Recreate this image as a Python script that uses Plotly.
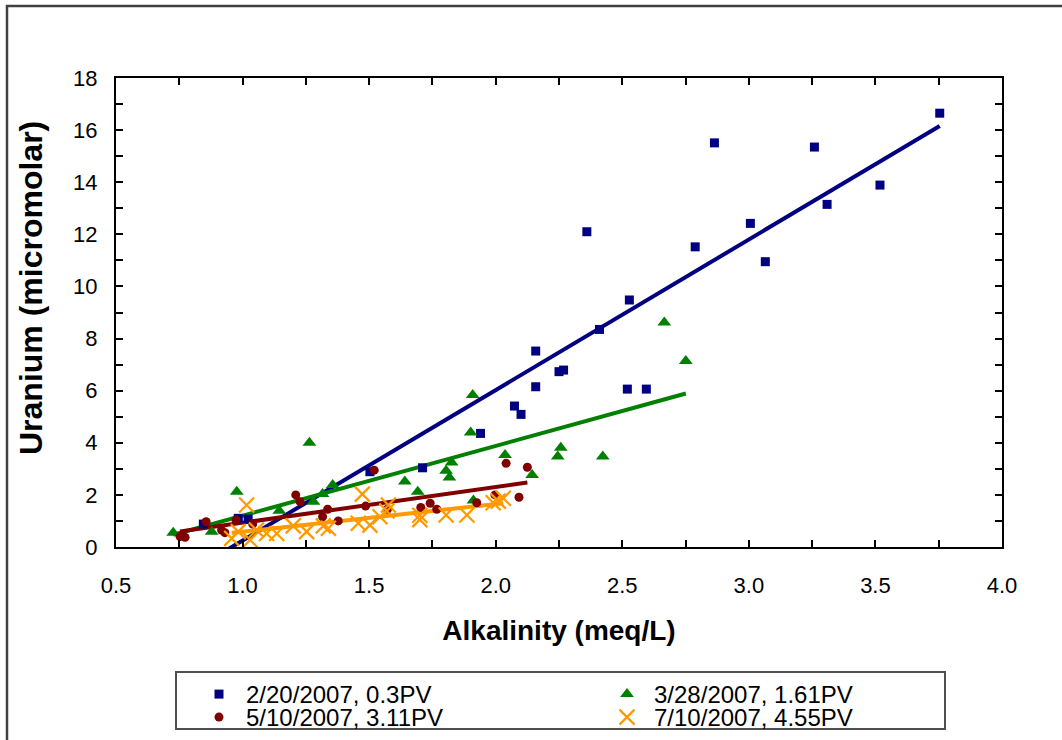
import numpy as np
import plotly.graph_objects as go

# ---------------- data ----------------
blue_x = [0.845, 0.983, 1.022, 1.503, 1.711, 1.94, 2.074, 2.10, 2.158, 2.158, 2.25, 2.268,
          2.36, 2.41, 2.52, 2.528, 2.595, 2.788, 2.864, 3.006, 3.065, 3.259, 3.309, 3.518, 3.754]
blue_y = [0.88, 1.1, 1.07, 2.89, 3.04, 4.36, 5.41, 5.09, 6.15, 7.52, 6.73, 6.79,
          12.1, 8.35, 6.06, 9.48, 6.06, 11.52, 15.51, 12.42, 10.95, 15.35, 13.15, 13.89, 16.65]

green_x = [0.726, 0.878, 0.977, 1.145, 1.264, 1.28, 1.316, 1.356, 1.641, 1.692, 1.804, 1.817,
           1.826, 1.901, 1.909, 1.912, 2.037, 2.144, 2.245, 2.257, 2.423, 2.666, 2.751]
green_y = [0.55, 0.59, 2.12, 1.39, 4.0, 1.74, 2.03, 2.38, 2.51, 2.12, 2.93, 2.67,
           3.24, 4.39, 5.83, 1.78, 3.53, 2.76, 3.47, 3.81, 3.47, 8.62, 7.14]

red_x = [0.753, 0.773, 0.856, 0.917, 0.93, 0.974, 1.04, 1.21, 1.227, 1.316, 1.336, 1.378,
         1.486, 1.52, 1.572, 1.704, 1.741, 1.767, 1.925, 1.997, 2.041, 2.092, 2.125]
red_y = [0.40, 0.37, 0.97, 0.65, 0.55, 1.04, 0.88, 2.0, 1.74, 1.16, 1.45, 1.0,
         1.57, 2.95, 1.45, 1.52, 1.68, 1.45, 1.70, 2.0, 3.21, 1.91, 3.06]

orange_x = [0.957, 0.983, 1.016, 1.03, 1.055, 1.095, 1.135, 1.20, 1.253, 1.319, 1.339, 1.457,
            1.473, 1.503, 1.543, 1.57, 1.576, 1.70, 1.70, 1.804, 1.886, 1.99, 2.01, 2.03]
orange_y = [0.33, 0.59, 1.61, 0.27, 0.65, 0.52, 0.52, 0.81, 0.59, 0.81, 0.72, 0.91,
            2.03, 0.84, 1.16, 1.38, 1.61, 1.22, 1.05, 1.23, 1.23, 1.70, 1.76, 1.87]

series_names = ["2/20/2007, 0.3PV", "3/28/2007, 1.61PV", "5/10/2007, 3.11PV", "7/10/2007, 4.55PV"]

x_title = "Alkalinity (meq/L)"
y_title = "Uranium (micromolar)"

x_tickvals = [0.5, 0.75, 1.0, 1.25, 1.5, 1.75, 2.0, 2.25, 2.5, 2.75, 3.0, 3.25, 3.5, 3.75, 4.0]
x_ticktext = ["0.5", "", "1.0", "", "1.5", "", "2.0", "", "2.5", "", "3.0", "", "3.5", "", "4.0"]
y_tickvals = list(range(0, 19))
y_ticktext = [str(v) if v % 2 == 0 else "" for v in y_tickvals]

# ---------------- style ----------------
colors = ["#000080", "#008000", "#800000", "#FF9900"]
symbols = ["square", "triangle-up", "circle", "x-thin"]
sizes = [9, 12, 9, 15]
legend_ids = ["legend", "legend", "legend2", "legend2"]

FONT = "Liberation Sans, Arial, sans-serif"

fig = go.Figure()

datasets = [(blue_x, blue_y), (green_x, green_y), (red_x, red_y), (orange_x, orange_y)]

# trendlines (least squares, spanning each series' x range)
for (xs, ys), c in zip(datasets, colors):
    xa = np.array(xs)
    ya = np.array(ys)
    slope, intercept = np.polyfit(xa, ya, 1)
    xl = np.array([xa.min(), xa.max()])
    fig.add_trace(go.Scatter(x=xl, y=slope * xl + intercept, mode="lines",
                             line=dict(color=c, width=4), showlegend=False,
                             hoverinfo="skip"))

for (xs, ys), c, s, sz, nm, lg in zip(datasets, colors, symbols, sizes, series_names, legend_ids):
    if s == "x-thin":
        marker = dict(symbol=s, size=sz, color=c, line=dict(color=c, width=2.2))
    else:
        marker = dict(symbol=s, size=sz, color=c, line=dict(width=0))
    fig.add_trace(go.Scatter(x=xs, y=ys, mode="markers", name=nm, marker=marker, legend=lg))

axis_common = dict(showgrid=False, zeroline=False, showline=True, linecolor="#000000",
                   linewidth=2, mirror="allticks", ticks="inside", ticklen=7,
                   tickwidth=1.5, tickcolor="#000000",
                   tickfont=dict(family=FONT, size=22, color="#000000"))

fig.update_xaxes(range=[0.5, 4.0], tickmode="array", tickvals=x_tickvals, ticktext=x_ticktext,
                 ticklabelstandoff=18,
                 title=dict(text="<b>" + x_title + "</b>",
                            font=dict(family=FONT, size=28, color="#000000"), standoff=23),
                 **axis_common)
fig.update_yaxes(range=[0, 18], tickmode="array", tickvals=y_tickvals, ticktext=y_ticktext,
                 ticklabelstandoff=12, **axis_common)

L, R, T, B = 116, 60, 78, 193
W, H = 1062, 740
pw, ph = W - L - R, H - T - B


def px(xpix):
    return (xpix - L) / pw


def py(ypix):
    return (H - B - ypix) / ph


# y-axis title placed as in the reference (slightly above the plot centre)
fig.add_annotation(text="<b>" + y_title + "</b>", xref="paper", yref="paper",
                   x=px(31), y=py(288), xanchor="center", yanchor="middle",
                   textangle=-90, showarrow=False,
                   font=dict(family=FONT, size=32, color="#000000"))

# outer chart-area border and legend box
fig.add_shape(type="rect", xref="paper", yref="paper",
              x0=px(7), x1=px(1075), y0=py(760), y1=py(6),
              line=dict(color="#404040", width=2.5), fillcolor="rgba(0,0,0,0)", layer="below")
fig.add_shape(type="rect", xref="paper", yref="paper",
              x0=px(176), x1=px(945), y0=py(729), y1=py(672),
              line=dict(color="#505050", width=2), fillcolor="rgba(0,0,0,0)")

legend_common = dict(orientation="h", xanchor="left", yanchor="top",
                     entrywidth=349, entrywidthmode="pixels", itemwidth=44,
                     font=dict(family=FONT, size=24, color="#000000"),
                     bgcolor="rgba(0,0,0,0)", borderwidth=0, itemsizing="trace")

fig.update_layout(
    width=W, height=H,
    margin=dict(l=L, r=R, t=T, b=B, autoexpand=False),
    plot_bgcolor="#FFFFFF", paper_bgcolor="#FFFFFF",
    font=dict(family=FONT, color="#000000"),
    legend=dict(x=px(192), y=py(672), **legend_common),
    legend2=dict(x=px(192), y=py(695), **legend_common),
)

fig.write_html("out.html")
